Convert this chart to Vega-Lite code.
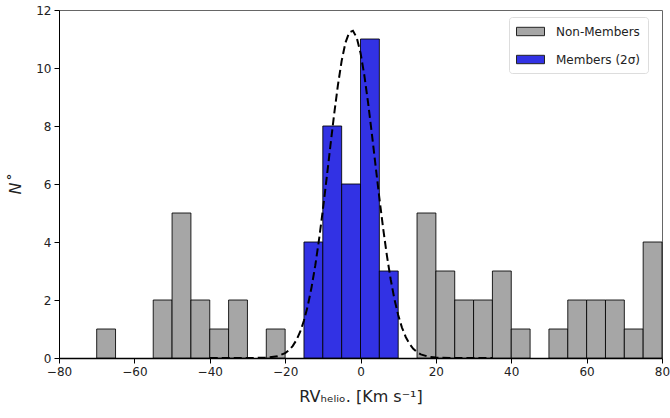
{
  "$schema": "https://vega.github.io/schema/vega-lite/v6.json",
  "width": 603,
  "height": 348,
  "autosize": "none",
  "padding": {"left": 59, "top": 10, "right": 8, "bottom": 60},
  "background": "white",
  "config": {
    "view": {"stroke": "#666666", "strokeWidth": 1},
    "font": "DejaVu Sans",
    "axis": {"grid": false, "domainColor": "black", "tickColor": "black", "labelColor": "#222222", "titleColor": "#222222", "labelFontSize": 12, "titleFontSize": 16, "titleFontWeight": "normal", "labelFont": "DejaVu Sans", "titleFont": "DejaVu Sans", "labelFlush": false}
  },
  "datasets": {
    "hist": [
      {"lo": -70, "hi": -65, "n": 1, "group": "Non-Members"},
      {"lo": -55, "hi": -50, "n": 2, "group": "Non-Members"},
      {"lo": -50, "hi": -45, "n": 5, "group": "Non-Members"},
      {"lo": -45, "hi": -40, "n": 2, "group": "Non-Members"},
      {"lo": -40, "hi": -35, "n": 1, "group": "Non-Members"},
      {"lo": -35, "hi": -30, "n": 2, "group": "Non-Members"},
      {"lo": -25, "hi": -20, "n": 1, "group": "Non-Members"},
      {"lo": 15, "hi": 20, "n": 5, "group": "Non-Members"},
      {"lo": 20, "hi": 25, "n": 3, "group": "Non-Members"},
      {"lo": 25, "hi": 30, "n": 2, "group": "Non-Members"},
      {"lo": 30, "hi": 35, "n": 2, "group": "Non-Members"},
      {"lo": 35, "hi": 40, "n": 3, "group": "Non-Members"},
      {"lo": 40, "hi": 45, "n": 1, "group": "Non-Members"},
      {"lo": 50, "hi": 55, "n": 1, "group": "Non-Members"},
      {"lo": 55, "hi": 60, "n": 2, "group": "Non-Members"},
      {"lo": 60, "hi": 65, "n": 2, "group": "Non-Members"},
      {"lo": 65, "hi": 70, "n": 2, "group": "Non-Members"},
      {"lo": 70, "hi": 75, "n": 1, "group": "Non-Members"},
      {"lo": 75, "hi": 80, "n": 4, "group": "Non-Members"},
      {"lo": -15, "hi": -10, "n": 4, "group": "Members (2σ)"},
      {"lo": -10, "hi": -5, "n": 8, "group": "Members (2σ)"},
      {"lo": -5, "hi": 0, "n": 6, "group": "Members (2σ)"},
      {"lo": 0, "hi": 5, "n": 11, "group": "Members (2σ)"},
      {"lo": 5, "hi": 10, "n": 3, "group": "Members (2σ)"}
    ],
    "fit": [
      {"x": -40, "y": 0}, {"x": -30, "y": 0.0004}, {"x": -25, "y": 0.011}, {"x": -22, "y": 0.061},
      {"x": -20, "y": 0.168}, {"x": -19, "y": 0.266}, {"x": -18, "y": 0.412}, {"x": -17, "y": 0.619},
      {"x": -16, "y": 0.907}, {"x": -15, "y": 1.294}, {"x": -14, "y": 1.794}, {"x": -13, "y": 2.427},
      {"x": -12, "y": 3.192}, {"x": -11, "y": 4.087}, {"x": -10, "y": 5.094}, {"x": -9, "y": 6.182},
      {"x": -8, "y": 7.302}, {"x": -7, "y": 8.398}, {"x": -6, "y": 9.402}, {"x": -5, "y": 10.246},
      {"x": -4, "y": 10.87}, {"x": -3, "y": 11.226}, {"x": -2, "y": 11.286}, {"x": -1, "y": 11.046},
      {"x": 0, "y": 10.525}, {"x": 1, "y": 9.762}, {"x": 2, "y": 8.814}, {"x": 3, "y": 7.747},
      {"x": 4, "y": 6.63}, {"x": 5, "y": 5.522}, {"x": 6, "y": 4.478}, {"x": 7, "y": 3.535},
      {"x": 8, "y": 2.717}, {"x": 9, "y": 2.032}, {"x": 10, "y": 1.48}, {"x": 11, "y": 1.05},
      {"x": 12, "y": 0.725}, {"x": 13, "y": 0.486}, {"x": 14, "y": 0.318}, {"x": 15, "y": 0.203},
      {"x": 16, "y": 0.126}, {"x": 18, "y": 0.0445}, {"x": 20, "y": 0.014}, {"x": 25, "y": 0.0005},
      {"x": 35, "y": 0}
    ]
  },
  "layer": [
    {
      "data": {"name": "hist"},
      "mark": {"type": "rect", "stroke": "black", "strokeWidth": 1, "strokeOpacity": 0.85},
      "encoding": {
        "x": {"field": "lo", "type": "quantitative", "scale": {"domain": [-80, 80], "nice": false, "zero": false},
              "axis": {"values": [-80, -60, -40, -20, 0, 20, 40, 60, 80], "tickSize": 5, "labelPadding": 3, "domainWidth": 1.5, "title": "RVₕₑₗᵢₒ. [Km s⁻¹]", "titlePadding": 11}},
        "x2": {"field": "hi"},
        "y": {"field": "n", "type": "quantitative", "scale": {"domain": [0, 12], "nice": false},
              "axis": {"values": [0, 0.5, 1, 1.5, 2, 2.5, 3, 3.5, 4, 4.5, 5, 5.5, 6, 6.5, 7, 7.5, 8, 8.5, 9, 9.5, 10, 10.5, 11, 11.5, 12],
                       "labelExpr": "datum.value % 2 === 0 ? datum.label : ''",
                       "tickSize": {"condition": {"test": "datum.value % 2 === 0", "value": 5}, "value": 3},
                       "title": "N˚", "titleFontStyle": "italic", "titlePadding": 12, "labelPadding": 3}},
        "y2": {"datum": 0},
        "color": {"field": "group", "type": "nominal",
                  "scale": {"domain": ["Non-Members", "Members (2σ)"], "range": ["#a6a6a6", "#3232e4"]},
                  "legend": {"title": null, "orient": "none", "legendX": 450, "legendY": 7,
                             "fillColor": "white", "strokeColor": "#dddddd", "cornerRadius": 3, "padding": 7,
                             "symbolType": "M-1,-0.6H3V0.6H-1Z", "symbolSize": 196, "symbolStrokeColor": "#222222", "symbolStrokeWidth": 1,
                             "symbolOpacity": 1, "labelFontSize": 12, "labelFont": "DejaVu Sans", "labelColor": "#222222", "rowPadding": 14, "labelOffset": 25}}
      }
    },
    {
      "data": {"name": "fit"},
      "mark": {"type": "line", "color": "black", "strokeWidth": 2, "strokeDash": [8, 4]},
      "encoding": {
        "x": {"field": "x", "type": "quantitative"},
        "y": {"field": "y", "type": "quantitative"}
      }
    }
  ]
}
